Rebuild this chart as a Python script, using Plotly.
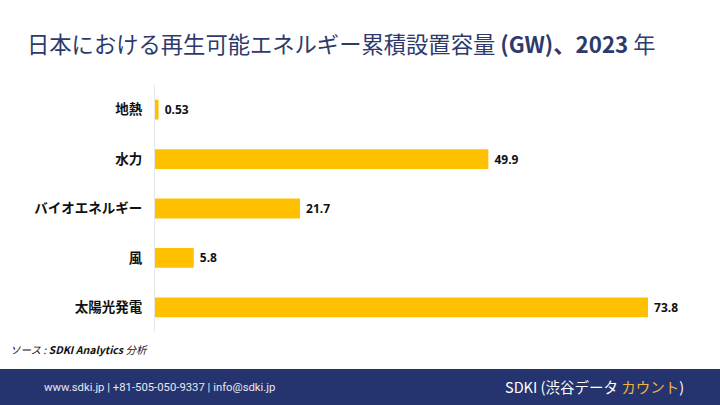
import plotly.graph_objects as go

categories = ["地熱", "水力", "バイオエネルギー", "風", "太陽光発電"]
values = [0.53, 49.9, 21.7, 5.8, 73.8]
value_labels = ["0.53", "49.9", "21.7", "5.8", "73.8"]

W, H = 720, 405
ML, MR, MT, MB = 155, 20, 85, 73
PW, PH = W - ML - MR, H - MT - MB

def px_x(px):
    return (px - ML) / PW

def px_y(py):
    return (H - py - MB) / PH

fig = go.Figure(go.Bar(
    x=values, y=categories, orientation="h",
    marker=dict(color="#FFC000", line=dict(width=0)),
    text=[" <b>%s</b>" % t for t in value_labels],
    textposition="outside",
    textfont=dict(size=12, color="#111111", family="Noto Sans"),
    cliponaxis=False,
    hoverinfo="skip",
))

fig.update_layout(
    width=W, height=H,
    margin=dict(l=ML, r=MR, t=MT, b=MB),
    paper_bgcolor="white", plot_bgcolor="white",
    bargap=0.6,
    showlegend=False,
    xaxis=dict(range=[0, PW / 6.68], showticklabels=False, showgrid=False,
               zeroline=False, showline=False, fixedrange=True),
    yaxis=dict(autorange="reversed", showgrid=False, zeroline=False,
               showline=True, linecolor="#E8E8E8", linewidth=1,
               ticks="outside", ticklen=9, tickcolor="rgba(0,0,0,0)",
               tickfont=dict(size=13.5, color="#111111", family="Noto Sans CJK JP"),
               tickprefix="<b>", ticksuffix="</b>", fixedrange=True),
    font=dict(family="Noto Sans CJK JP"),
)

shapes = [dict(type="rect", xref="paper", yref="paper",
               x0=px_x(0), x1=px_x(W), y0=px_y(405), y1=px_y(369),
               fillcolor="#25346E", line=dict(width=0), layer="below")]
fig.update_layout(shapes=shapes)

ann = []
ann.append(dict(text="日本における再生可能エネルギー累積設置容量 <b>(GW)、2023</b> 年",
                x=px_x(25), y=px_y(43), xref="paper", yref="paper",
                xanchor="left", yanchor="middle", showarrow=False,
                font=dict(size=22.3, color="#2D3A6B", family="Noto Sans CJK JP")))
ann.append(dict(text="<i>ソース : <b>SDKI Analytics</b> 分析</i>",
                x=px_x(8), y=px_y(349), xref="paper", yref="paper",
                xanchor="left", yanchor="middle", showarrow=False,
                font=dict(size=10.5, color="#111111", family="Noto Sans CJK JP")))
ann.append(dict(text="www.sdki.jp | +81-505-050-9337 | info@sdki.jp",
                x=px_x(42), y=px_y(387), xref="paper", yref="paper",
                xanchor="left", yanchor="middle", showarrow=False,
                font=dict(size=11.3, color="#E6E8F0", family="Roboto")))
ann.append(dict(text="SDKI (渋谷データ <span style='color:#F2B33D'>カウント</span>)",
                x=px_x(686), y=px_y(386), xref="paper", yref="paper",
                xanchor="right", yanchor="middle", showarrow=False,
                font=dict(size=14.5, color="#FFFFFF", family="Noto Sans CJK JP")))
fig.update_layout(annotations=ann)

fig.write_html("out.html", config={"displayModeBar": False},
               post_script="document.body.style.margin='0';")
